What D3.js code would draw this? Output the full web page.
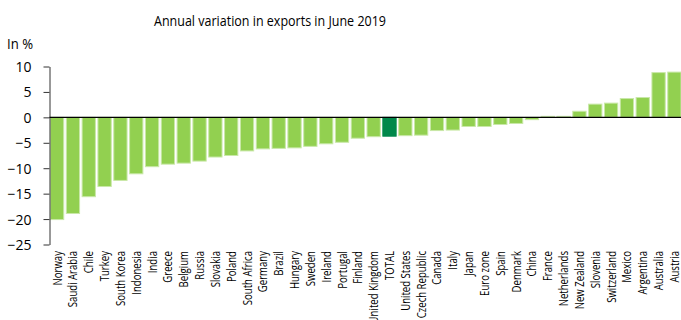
<!DOCTYPE html>
<html>
<head>
<meta charset="utf-8">
<script src="https://cdn.jsdelivr.net/npm/d3@7"></script>
<style>
	body { margin: 0; background: #fff; }
	svg { display: block; font-family: 'Open Sans', sans-serif; }
	.y-axis text { font-family: 'Open Sans', sans-serif; font-size: 14px; fill: #000; }
	.y-axis path, .y-axis line { stroke: #333; }
	.cat-label { font-size: 12px; fill: #000; }
</style>
</head>
<body>
<svg id="exports-svg" width="681" height="320"></svg>
<script>
const countries = ['Norway', 'Saudi Arabia', 'Chile', 'Turkey', 'South Korea', 'Indonesia', 'India', 'Greece',
	'Belgium', 'Russia', 'Slovakia', 'Poland', 'South Africa', 'Germany', 'Brazil', 'Hungary', 'Sweden',
	'Ireland', 'Portugal', 'Finland', 'United Kingdom', 'TOTAL', 'United States', 'Czech Republic', 'Canada',
	'Italy', 'Japan', 'Euro zone', 'Spain', 'Denmark', 'China', 'France', 'Netherlands', 'New Zealand',
	'Slovenia', 'Switzerland', 'Mexico', 'Argentina', 'Australia', 'Austria'];
const variation = [-20.1, -18.9, -15.6, -13.6, -12.4, -11.1, -9.7, -9.2,
	-9.0, -8.6, -7.8, -7.5, -6.6, -6.2, -6.1, -6.0, -5.7,
	-5.2, -4.9, -4.1, -3.8, -3.7, -3.6, -3.5, -2.6,
	-2.5, -1.8, -1.8, -1.4, -1.2, -0.45, 0.2, 0.2, 1.2,
	2.6, 2.8, 3.7, 3.9, 8.8, 8.9];
const yTicks = [10, 5, 0, -5, -10, -15, -20, -25];

const svg = d3.select('#exports-svg');

const x = d3.scaleBand()
	.domain(countries)
	.range([49.5, 682])
	.paddingInner(0.16)
	.paddingOuter(0.06);

const y = d3.scaleLinear()
	.domain([-25, 10])
	.range([244.5, 66.5]);

// title (condensed face in the original, so squeeze it)
svg.append('text')
	.attr('x', 154)
	.attr('y', 26)
	.attr('textLength', 232)
	.attr('lengthAdjust', 'spacingAndGlyphs')
	.style('font-size', '15px')
	.text('Annual variation in exports in June 2019');

svg.append('text')
	.attr('x', 7)
	.attr('y', 49)
	.attr('textLength', 26)
	.attr('lengthAdjust', 'spacingAndGlyphs')
	.style('font-size', '14.5px')
	.text('In %');

// bars
svg.append('g')
	.attr('class', 'bars')
	.selectAll('rect')
	.data(countries)
	.enter().append('rect')
	.attr('x', (d) => { return x(d); })
	.attr('width', x.bandwidth())
	.attr('y', (d, i) => { return y(Math.max(0, variation[i])); })
	.attr('height', (d, i) => { return Math.abs(y(variation[i]) - y(0)); })
	.style('fill', (d) => { return d === 'TOTAL' ? '#00884a' : '#92d050'; })
	.style('stroke', (d) => { return d === 'TOTAL' ? '#00884a' : '#c9e8a8'; })
	.style('stroke-width', 1);

// y axis
svg.append('g')
	.attr('class', 'y-axis')
	.attr('transform', 'translate(49.5, 0)')
	.call(d3.axisLeft(y).tickValues(yTicks).tickSize(6).tickSizeOuter(0).tickPadding(12))
	.call((g) => g.selectAll('.tick text').attr('dy', '0.36em'));

// zero line
svg.append('line')
	.attr('x1', 49.5)
	.attr('x2', 681)
	.attr('y1', y(0))
	.attr('y2', y(0))
	.style('stroke', '#000')
	.style('stroke-width', 1.2);

// category labels, narrowed along their length
svg.append('g')
	.selectAll('text')
	.data(countries)
	.enter().append('text')
	.attr('class', 'cat-label')
	.attr('transform', (d) => { return 'translate(' + (x(d) + x.bandwidth() / 2 + 4.5) + ', 251) rotate(-90) scale(0.8, 1)'; })
	.attr('text-anchor', 'end')
	.text((d) => { return d; });
</script>
</body>
</html>
